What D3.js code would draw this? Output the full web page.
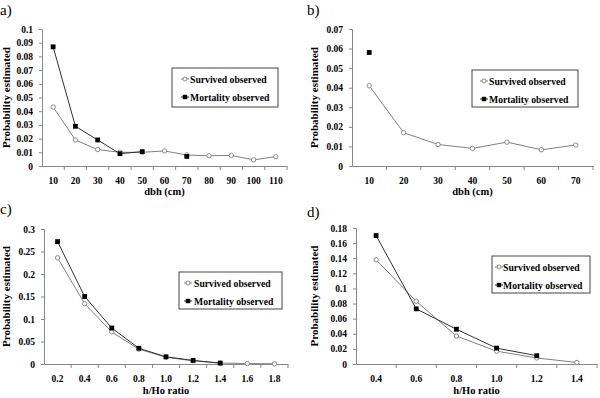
<!DOCTYPE html>
<html><head><meta charset="utf-8">
<script src="https://cdn.jsdelivr.net/npm/d3@7"></script>
<style>
body{margin:0;background:#fff;}
</style></head>
<body><svg id="c" width="600" height="398"></svg>
<script>
// ---- data ----
const dbhA = ["10","20","30","40","50","60","70","80","90","100","110"];
const survA = [0.043,0.019,0.012,0.010,0.010,0.011,0.008,0.0075,0.0077,0.0045,0.0068];
const mortA = [0.087,0.029,0.019,0.009,0.0105,null,0.007,null,null,null,null];

const dbhB = ["10","20","30","40","50","60","70"];
const survB = [0.041,0.017,0.011,0.009,0.0122,0.0083,0.0107];
const mortB = [0.058,null,null,null,null,null,null];

const ratioC = ["0.2","0.4","0.6","0.8","1.0","1.2","1.4","1.6","1.8"];
const survC = [0.236,0.134,0.071,0.033,0.015,0.007,0.002,0.001,0.0005];
const mortC = [0.272,0.150,0.080,0.035,0.016,0.008,0.002,null,null];

const ratioD = ["0.4","0.6","0.8","1.0","1.2","1.4"];
const survD = [0.138,0.083,0.037,0.017,0.008,0.002];
const mortD = [0.170,0.073,0.046,0.021,0.011,null];

const legendLabels = ["Survived observed","Mortality observed"];
const yTitle = "Probability estimated";

const panels = [
  {tag:"a)", tx:0, ty:15, cats:dbhA, surv:survA, mort:mortA, ymax:0.1, ystep:0.01, xt:"dbh (cm)",
   x0:42, x1:287, yT:29, yB:166, ytx:10, xty:195, lg:[172,68,106,39], mo:13, to:18},
  {tag:"b)", tx:307, ty:15, cats:dbhB, surv:survB, mort:mortB, ymax:0.07, ystep:0.01, xt:"dbh (cm)",
   x0:352, x1:593, yT:29, yB:166, ytx:318, xty:195, lg:[472,70,106,37], mo:12, to:17},
  {tag:"c)", tx:0, ty:214, cats:ratioC, surv:survC, mort:mortC, ymax:0.3, ystep:0.05, xt:"h/Ho ratio",
   x0:44, x1:288, yT:229, yB:364, ytx:10, xty:394, lg:[179,272,103,37], mo:9, to:15},
  {tag:"d)", tx:307, ty:217, cats:ratioD, surv:survD, mort:mortD, ymax:0.18, ystep:0.02, xt:"h/Ho ratio",
   x0:356, x1:597, yT:228, yB:364, ytx:318, xty:394, lg:[492,256,98,37], mo:7, to:11}
];

const FONT = '"Liberation Serif","Times New Roman",serif';
const svg = d3.select("#c");
const AX = "#888";

panels.forEach(p => {
  const g = svg.append("g");
  const x = d3.scaleBand().domain(p.cats).range([p.x0, p.x1]);
  const y = d3.scaleLinear().domain([0, p.ymax]).range([p.yB, p.yT]);
  const cx = c => x(c) + x.bandwidth()/2;

  g.append("text").attr("x", p.tx).attr("y", p.ty).style("font-family", FONT).style("font-size","15px").text(p.tag);

  const yt = d3.range(0, p.ymax + p.ystep/2, p.ystep).map(v => +v.toFixed(3));
  const ya = g.append("g").attr("transform", `translate(${p.x0},0)`)
    .call(d3.axisLeft(y).tickValues(yt).tickFormat(d => String(d)).tickSizeOuter(0).tickSize(3).tickPadding(6));
  ya.select(".domain").attr("stroke", AX);
  ya.selectAll(".tick line").attr("stroke", AX);
  ya.selectAll("text").style("font-family", FONT).style("font-size","9.5px").style("font-weight","bold").attr("fill","#000");

  const xa = g.append("g").attr("transform", `translate(0,${p.yB})`)
    .call(d3.axisBottom(x).tickSize(0).tickPadding(11).tickSizeOuter(0));
  xa.select(".domain").attr("stroke", AX);
  xa.selectAll("text").style("font-family", FONT).style("font-size","9.5px").style("font-weight","bold").attr("fill","#000");
  xa.selectAll(".bt").data(p.cats).enter().append("line")
    .attr("x1", (d,i) => p.x0 + (i+1)*x.step()).attr("x2", (d,i) => p.x0 + (i+1)*x.step())
    .attr("y1", 0).attr("y2", 4).attr("stroke", AX);

  g.append("text").attr("transform", `translate(${p.ytx},${(p.yT+p.yB)/2}) rotate(-90)`)
    .attr("text-anchor", "middle").style("font-family", FONT).style("font-size","11px").style("font-weight","bold").text(yTitle);
  g.append("text").attr("x", (p.x0+p.x1)/2).attr("y", p.xty)
    .attr("text-anchor", "middle").style("font-family", FONT).style("font-size","10.5px").style("font-weight","bold").text(p.xt);

  const line = d3.line().defined(d => d.v != null).x(d => cx(d.c)).y(d => y(d.v));
  const sd = p.cats.map((c,i) => ({c, v:p.surv[i]}));
  const md = p.cats.map((c,i) => ({c, v:p.mort[i]}));
  g.append("path").datum(sd).attr("d", line).attr("fill","none").attr("stroke","#808080").attr("stroke-width",1);
  g.append("path").datum(md).attr("d", line).attr("fill","none").attr("stroke","#303030").attr("stroke-width",1);

  g.selectAll(".sm").data(sd.filter(d => d.v != null)).enter().append("circle")
    .attr("cx", d => cx(d.c)).attr("cy", d => y(d.v)).attr("r", 2.2)
    .attr("fill","#fff").attr("stroke","#808080").attr("stroke-width",0.9);
  g.selectAll(".mm").data(md.filter(d => d.v != null)).enter().append("rect")
    .attr("x", d => cx(d.c)-2.4).attr("y", d => y(d.v)-2.4).attr("width",4.8).attr("height",4.8)
    .attr("fill","#000");

  const [lx, ly, lw, lh] = p.lg;
  const lg = g.append("g");
  lg.append("rect").attr("x", lx).attr("y", ly).attr("width", lw).attr("height", lh)
    .attr("fill","#fff").attr("stroke","#444").attr("stroke-width",1);
  legendLabels.forEach((t,i) => {
    const ry = ly + 11 + i*18;
    const mx = lx + p.mo;
    lg.append("line").attr("x1", mx-4).attr("x2", mx+4).attr("y1", ry).attr("y2", ry)
      .attr("stroke", i ? "#303030" : "#808080");
    if (i) lg.append("rect").attr("x", mx-2.2).attr("y", ry-2.2).attr("width",4.4).attr("height",4.4).attr("fill","#000");
    else lg.append("circle").attr("cx", mx).attr("cy", ry).attr("r",2).attr("fill","#fff").attr("stroke","#808080").attr("stroke-width",0.9);
    lg.append("text").attr("x", lx + p.to).attr("y", ry+3.5).style("font-family", FONT).style("font-size","9.7px").style("font-weight","bold").text(t);
  });
});
</script></body></html>
